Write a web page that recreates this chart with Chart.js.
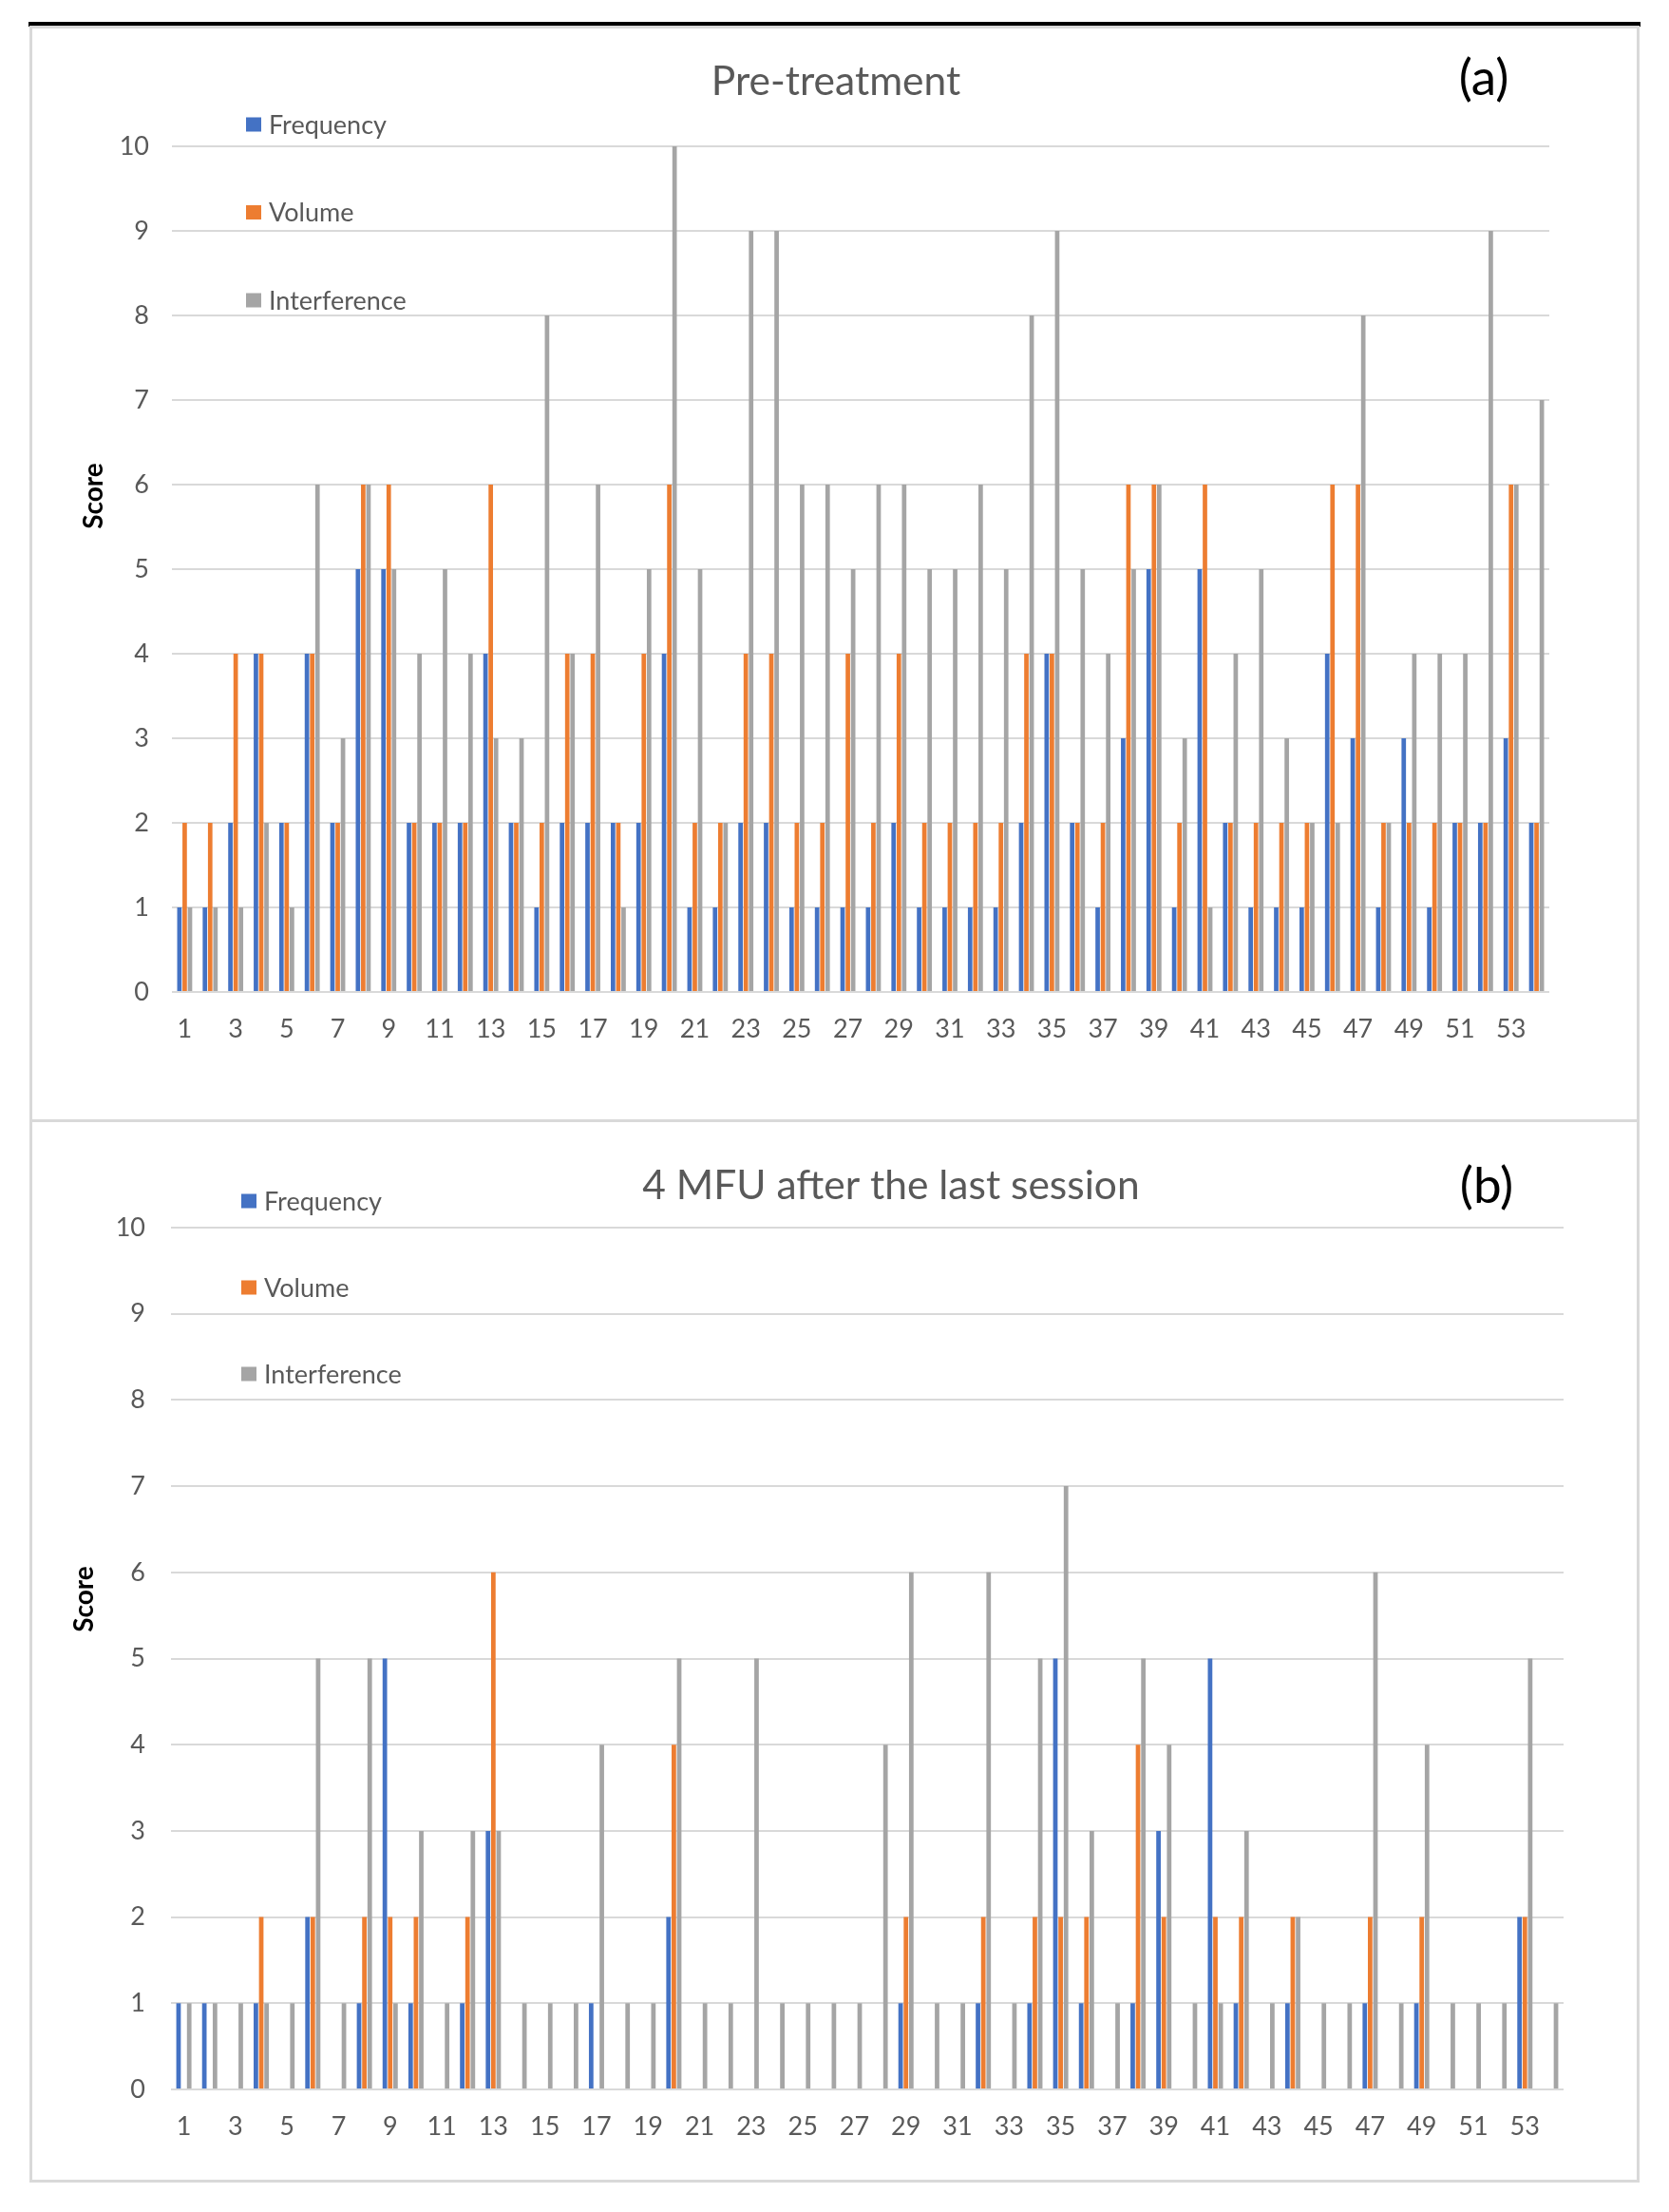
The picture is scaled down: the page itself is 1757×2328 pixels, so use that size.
<!DOCTYPE html>
<html>
<head>
<meta charset="utf-8">
<title>Score per patient</title>
<script src="https://cdn.jsdelivr.net/npm/chart.js@4.4.1/dist/chart.umd.min.js"></script>
<style>
  html, body { margin: 0; padding: 0; background: #fff; }
  body { width: 1757px; height: 2328px; position: relative; overflow: hidden; }
  .topline { position: absolute; left: 30px; top: 23px; width: 1697px; height: 5px; background: #000; }
  .panel { position: absolute; left: 31px; width: 1695px; border: 3px solid #d9d9d9; box-sizing: border-box; }
  #panelA { top: 27px; height: 1154px; }
  #panelB { top: 1178px; height: 1119px; }
  canvas { position: absolute; left: 0; }
  #chartA { top: 28px; }
  #chartB { top: 1179px; }
</style>
</head>
<body>
<div class="topline"></div>
<div class="panel" id="panelA"></div>
<div class="panel" id="panelB"></div>
<canvas id="chartA" width="1757" height="1151"></canvas>
<canvas id="chartB" width="1757" height="1116"></canvas>

<script>
// patienten 1 t/m 54
const patients = ['1','2','3','4','5','6','7','8','9','10','11','12','13','14','15','16','17','18',
  '19','20','21','22','23','24','25','26','27','28','29','30','31','32','33','34','35','36',
  '37','38','39','40','41','42','43','44','45','46','47','48','49','50','51','52','53','54'];

const seriesNames = ['Frequency', 'Volume', 'Interference'];
const seriesColors = ['#4472C4', '#ED7D31', '#A5A5A5'];

const yTicks = [0, 1, 2, 3, 4, 5, 6, 7, 8, 9, 10];

// (a) voor de behandeling
const frequencyPre = [1,1,2,4,2,4,2,5,5,2, 2,2,4,2,1,2,2,2,2,4, 1,1,2,2,1,1,1,1,2,1,
  1,1,1,2,4,2,1,3,5,1, 5,2,1,1,1,4,3,1,3,1, 2,2,3,2];
const volumePre = [2,2,4,4,2,4,2,6,6,2, 2,2,6,2,2,4,4,2,4,6, 2,2,4,4,2,2,4,2,4,2,
  2,2,2,4,4,2,2,6,6,2, 6,2,2,2,2,6,6,2,2,2, 2,2,6,2];
const interferencePre = [1,1,1,2,1,6,3,6,5,4, 5,4,3,3,8,4,6,1,5,10, 5,2,9,9,6,6,5,6,6,5,
  5,6,5,8,9,5,4,5,6,3, 1,4,5,3,2,2,8,2,4,4, 4,9,6,7];

// (b) 4 maanden na de laatste sessie
const frequencyPost = [1,1,0,1,0,2,0,1,5,1, 0,1,3,0,0,0,1,0,0,2, 0,0,0,0,0,0,0,0,1,0,
  0,1,0,1,5,1,0,1,3,0, 5,1,0,1,0,0,1,0,1,0, 0,0,2,0];
const volumePost = [0,0,0,2,0,2,0,2,2,2, 0,2,6,0,0,0,0,0,0,4, 0,0,0,0,0,0,0,0,2,0,
  0,2,0,2,2,2,0,4,2,0, 2,2,0,2,0,0,2,0,2,0, 0,0,2,0];
const interferencePost = [1,1,1,1,1,5,1,5,1,3, 1,3,3,1,1,1,4,1,1,5, 1,1,5,1,1,1,1,4,6,1,
  1,6,1,5,7,3,1,5,4,1, 1,3,1,2,1,1,6,1,4,1, 1,1,5,1];

const grey = '#595959';
const fontName = 'Lato, "Open Sans", sans-serif';

// tekent titel, (a)/(b), legenda en de Score tekst op de plek van het origineel
const decoPlugin = {
  id: 'deco',
  afterDraw(chart, args, opts) {
    const ctx = chart.ctx;
    ctx.save();

    ctx.fillStyle = grey;
    ctx.font = '42.5px ' + fontName;
    ctx.textAlign = 'center';
    ctx.textBaseline = 'alphabetic';
    ctx.fillText(opts.title, opts.titleX, opts.titleY);

    ctx.fillStyle = '#000';
    ctx.font = '53px ' + fontName;
    ctx.textBaseline = 'middle';
    ctx.fillText(opts.tag, opts.tagX, opts.tagY);

    // legenda onder elkaar
    ctx.font = '27px ' + fontName;
    ctx.textAlign = 'left';
    chart.data.datasets.forEach(function(ds, i) {
      const y = opts.legendY + i * opts.legendStep;
      ctx.fillStyle = ds.backgroundColor;
      ctx.fillRect(opts.legendX, y - 7.5, 16, 15);
      ctx.fillStyle = grey;
      ctx.fillText(ds.label, opts.legendX + 24, y + 1);
    });

    // y as titel
    ctx.translate(opts.scoreX, opts.scoreY);
    ctx.rotate(-Math.PI / 2);
    ctx.fillStyle = '#000';
    ctx.font = 'bold 28px ' + fontName;
    ctx.textAlign = 'center';
    ctx.fillText('Score', 0, 0);
    ctx.restore();
  }
};

function makeChart(id, values, deco, pad, yPadding) {
  const datasets = [];
  for (let i = 0; i < seriesNames.length; i++) {
    datasets.push({
      label: seriesNames[i],
      data: values[i],
      backgroundColor: seriesColors[i],
      borderWidth: 0,
      categoryPercentage: 0.62,
      barPercentage: 0.85
    });
  }

  return new Chart(document.getElementById(id), {
    type: 'bar',
    data: { labels: patients, datasets: datasets },
    plugins: [decoPlugin],
    options: {
      responsive: false,
      animation: false,
      devicePixelRatio: 1,
      layout: { padding: pad },
      plugins: {
        legend: { display: false },
        title: { display: false },
        tooltip: { enabled: false },
        deco: deco
      },
      scales: {
        x: {
          grid: { display: false, drawTicks: false },
          border: { display: false },
          ticks: {
            autoSkip: false,
            maxRotation: 0,
            padding: 23,
            color: grey,
            font: { family: fontName, size: 27 },
            // alleen de oneven nummers laten zien
            callback: function(value, index) {
              return index % 2 === 0 ? this.getLabelForValue(value) : '';
            }
          },
          afterFit: function(scale) { scale.height = 60; }
        },
        y: {
          min: yTicks[0],
          max: yTicks[yTicks.length - 1],
          afterBuildTicks: function(scale) {
            scale.ticks = yTicks.map(v => ({ value: v }));
          },
          grid: { color: '#d9d9d9', lineWidth: 2, drawTicks: false },
          border: { display: false },
          ticks: {
            padding: yPadding,
            color: grey,
            font: { family: fontName, size: 27 }
          },
          afterFit: function(scale) { scale.width = deco.axisWidth; }
        }
      }
    }
  });
}

makeChart('chartA', [frequencyPre, volumePre, interferencePre], {
  title: 'Pre-treatment', titleX: 880, titleY: 72,
  tag: '(a)', tagX: 1562, tagY: 55,
  legendX: 259, legendY: 103, legendStep: 92.5,
  scoreX: 99, scoreY: 494,
  axisWidth: 181
}, { left: 0, right: 126, top: 126, bottom: 75 }, 24);

makeChart('chartB', [frequencyPost, volumePost, interferencePost], {
  title: '4 MFU after the last session', titleX: 938, titleY: 83,
  tag: '(b)', tagX: 1565, tagY: 70,
  legendX: 254, legendY: 85, legendStep: 91,
  scoreX: 89, scoreY: 504,
  axisWidth: 180
}, { left: 0, right: 111, top: 113, bottom: 36 }, 27);
</script>
</body>
</html>
